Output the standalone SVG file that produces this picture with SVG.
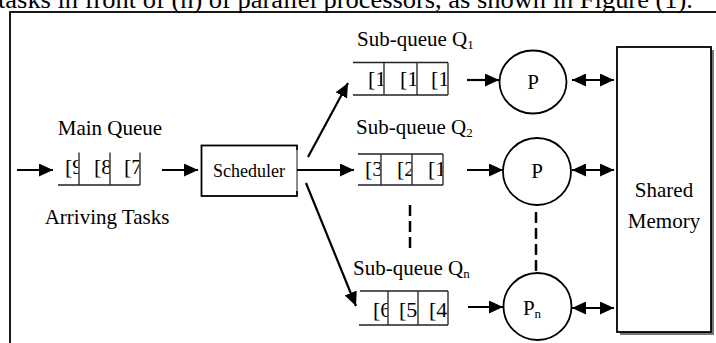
<svg xmlns="http://www.w3.org/2000/svg" width="716" height="343" viewBox="0 0 716 343">
<style>
text{font-family:"Liberation Serif","Times New Roman",serif;fill:#000}
.lbl{font-size:21px}
.cell{font-size:22px}
.sub{font-size:13px}
.q{fill:none;stroke:#222;stroke-width:1.3}
.arr{stroke:#000;stroke-width:2.2;fill:none}
.dash{stroke:#000;stroke-width:2.5;stroke-dasharray:11 5;fill:none}
.proc{fill:#fff;stroke:#000;stroke-width:1.8}
</style>
<defs>
<marker id="ah" markerUnits="userSpaceOnUse" markerWidth="15" markerHeight="13" refX="14" refY="6.5" orient="auto-start-reverse" viewBox="0 0 15 13">
<path d="M0,0 L14,6.5 L0,13 z" fill="#000"/>
</marker>
<clipPath id="m1" clipPathUnits="userSpaceOnUse"><rect x="50" y="140" width="28.4" height="50"/></clipPath>
<clipPath id="m2" clipPathUnits="userSpaceOnUse"><rect x="80" y="140" width="29.4" height="50"/></clipPath>
<clipPath id="m3" clipPathUnits="userSpaceOnUse"><rect x="111" y="140" width="28.4" height="50"/></clipPath>
<clipPath id="a1" clipPathUnits="userSpaceOnUse"><rect x="354" y="55" width="29.4" height="45"/></clipPath>
<clipPath id="a2" clipPathUnits="userSpaceOnUse"><rect x="385" y="55" width="31.4" height="45"/></clipPath>
<clipPath id="a3" clipPathUnits="userSpaceOnUse"><rect x="418" y="55" width="29.4" height="45"/></clipPath>
<clipPath id="b1" clipPathUnits="userSpaceOnUse"><rect x="358" y="148" width="22.4" height="42"/></clipPath>
<clipPath id="b2" clipPathUnits="userSpaceOnUse"><rect x="382" y="148" width="29.4" height="42"/></clipPath>
<clipPath id="b3" clipPathUnits="userSpaceOnUse"><rect x="413" y="148" width="29.4" height="42"/></clipPath>
<clipPath id="c1" clipPathUnits="userSpaceOnUse"><rect x="360" y="285" width="27.4" height="45"/></clipPath>
<clipPath id="c2" clipPathUnits="userSpaceOnUse"><rect x="389" y="285" width="28.4" height="45"/></clipPath>
<clipPath id="c3" clipPathUnits="userSpaceOnUse"><rect x="419" y="285" width="28.4" height="45"/></clipPath>
</defs>
<rect width="716" height="343" fill="#fff"/>
<text x="-2" y="8" font-size="25" textLength="695" lengthAdjust="spacingAndGlyphs">tasks in front of (n) of parallel processors, as shown in Figure (1).</text>
<rect x="10" y="12" width="730" height="350" fill="none" stroke="#000" stroke-width="1.8"/>

<g id="main-queue">
<text class="lbl" x="110" y="135" text-anchor="middle">Main Queue</text>
<path class="q" d="M58,185 H140 M79,152.5 V185 M110,152.5 V185 M140,152.5 V185"/>
<text class="cell" x="65" y="174" clip-path="url(#m1)">[9</text>
<text class="cell" x="94" y="174" clip-path="url(#m2)">[8</text>
<text class="cell" x="124" y="174" clip-path="url(#m3)">[7</text>
<text class="lbl" x="107" y="224" text-anchor="middle">Arriving Tasks</text>
</g>

<g id="scheduler">
<rect x="201.5" y="145.5" width="95.5" height="50.5" fill="#fff" stroke="#000" stroke-width="1.8"/>
<line x1="297" y1="150" x2="297" y2="191" stroke="#999" stroke-width="1.8"/>
<text x="249" y="177" text-anchor="middle" font-size="18">Scheduler</text>
</g>

<g id="subqueue-1">
<text class="lbl" x="357" y="46">Sub-queue Q<tspan class="sub" dy="3">1</tspan></text>
<path class="q" d="M353,62.5 H448 M353,95 H448 M384,62.5 V95 M417,62.5 V95 M448,62.5 V95"/>
<text class="cell" x="368" y="86" clip-path="url(#a1)">[1</text>
<text class="cell" x="400" y="86" clip-path="url(#a2)">[1</text>
<text class="cell" x="431" y="86" clip-path="url(#a3)">[1</text>
</g>

<g id="subqueue-2">
<text class="lbl" x="356" y="134">Sub-queue Q<tspan class="sub" dy="3">2</tspan></text>
<path class="q" d="M358,154 H443 M358,185 H443 M381,154 V185 M412,154 V185 M443,154 V185"/>
<text class="cell" x="365" y="176" clip-path="url(#b1)">[3</text>
<text class="cell" x="397" y="176" clip-path="url(#b2)">[2</text>
<text class="cell" x="428" y="176" clip-path="url(#b3)">[1</text>
</g>

<g id="subqueue-n">
<text class="lbl" x="353" y="275">Sub-queue Q<tspan class="sub" dy="3">n</tspan></text>
<path class="q" d="M360,291 H448 M359,325 H448 M388,291 V325 M418,291 V325 M448,291 V325"/>
<text class="cell" x="373" y="317" clip-path="url(#c1)">[6</text>
<text class="cell" x="399" y="317" clip-path="url(#c2)">[5</text>
<text class="cell" x="429" y="317" clip-path="url(#c3)">[4</text>
</g>

<g id="processor-1">
<ellipse class="proc" cx="533" cy="82" rx="33.5" ry="31.5"/>
<text class="lbl" x="533" y="89" text-anchor="middle">P</text>
</g>
<g id="processor-2">
<ellipse class="proc" cx="537" cy="171.5" rx="34" ry="33.5"/>
<text class="lbl" x="537" y="178" text-anchor="middle">P</text>
</g>
<g id="processor-n">
<ellipse class="proc" cx="537.5" cy="306.5" rx="34" ry="33.5"/>
<text class="lbl" x="532" y="315" text-anchor="middle">P<tspan class="sub" dy="3">n</tspan></text>
</g>

<g id="shared-memory">
<rect x="620" y="50" width="94" height="285" fill="#777"/>
<rect x="617" y="47" width="94" height="285" fill="#fff" stroke="#000" stroke-width="1.8"/>
<text x="664" y="197" text-anchor="middle" font-size="21">Shared</text>
<text x="664" y="228" text-anchor="middle" font-size="21">Memory</text>
</g>

<g id="connectors">
<line class="arr" x1="17" y1="170" x2="53" y2="170" marker-end="url(#ah)"/>
<line class="arr" x1="162" y1="170" x2="198" y2="170" marker-end="url(#ah)"/>
<line class="arr" x1="297" y1="170" x2="354" y2="170" marker-end="url(#ah)"/>
<line class="arr" x1="308" y1="157" x2="348" y2="83" marker-end="url(#ah)"/>
<line class="arr" x1="306" y1="183" x2="356" y2="306" marker-end="url(#ah)"/>
<line class="arr" x1="467" y1="80" x2="499" y2="80" marker-end="url(#ah)"/>
<line class="arr" x1="467" y1="170" x2="503" y2="170" marker-end="url(#ah)"/>
<line class="arr" x1="468" y1="307" x2="503" y2="307" marker-end="url(#ah)"/>
<line class="arr" x1="572" y1="80" x2="614" y2="80" marker-start="url(#ah)" marker-end="url(#ah)"/>
<line class="arr" x1="572" y1="170" x2="614" y2="170" marker-start="url(#ah)" marker-end="url(#ah)"/>
<line class="arr" x1="572" y1="308" x2="614" y2="308" marker-start="url(#ah)" marker-end="url(#ah)"/>
<line class="dash" x1="410" y1="205" x2="410" y2="252"/>
<line class="dash" x1="536" y1="212" x2="536" y2="272"/>
</g>
</svg>
